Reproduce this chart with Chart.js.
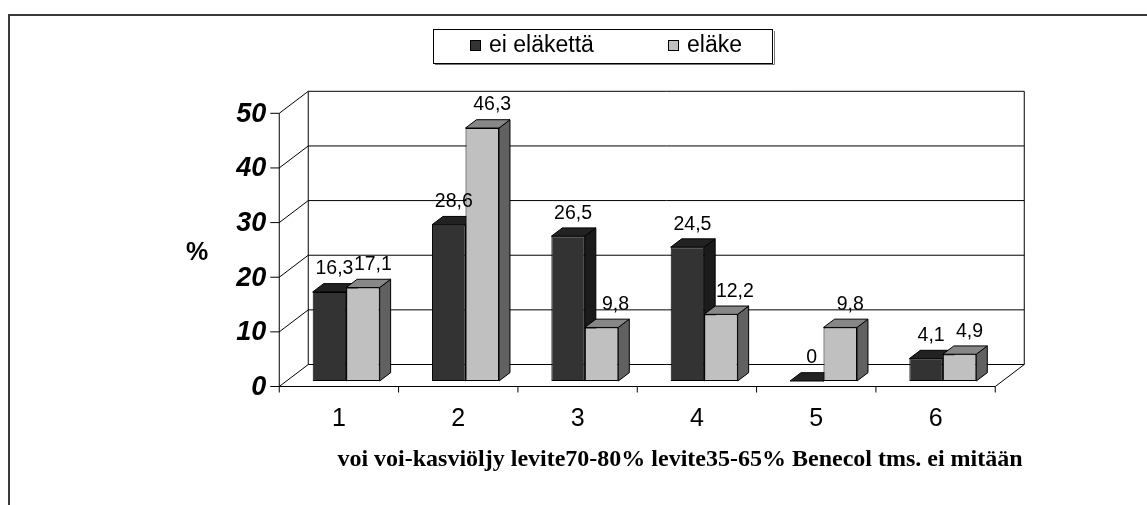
<!DOCTYPE html>
<html>
<head>
<meta charset="utf-8">
<script src="https://cdn.jsdelivr.net/npm/chart.js@4.4.1/dist/chart.umd.min.js"></script>
<style>
  html, body { margin: 0; padding: 0; background: #ffffff; }
  #wrap { position: relative; width: 1147px; height: 505px; }
</style>
</head>
<body>
<div id="wrap"><canvas id="chart"></canvas></div>
<script>
// ---- data ----
const categories = ['1', '2', '3', '4', '5', '6'];
const productNames = ['voi', 'voi-kasviöljy', 'levite70-80%', 'levite35-65%', 'Benecol tms.', 'ei mitään'];
const seriesNames = ['ei eläkettä', 'eläke'];
const eiElakettaValues = [16.3, 28.6, 26.5, 24.5, 0, 4.1];
const elakeValues = [17.1, 46.3, 9.8, 12.2, 9.8, 4.9];
const yTickValues = [0, 10, 20, 30, 40, 50];
const yAxisTitle = '%';

// ---- styling ----
const faceColors = [
  { front: '#333333', top: '#222222', side: '#1b1b1b' },
  { front: '#c0c0c0', top: '#878787', side: '#616161' }
];
const WALL = { dx: 29, dy: -22 };      // full depth of the 3D box
const PLANE_T = 0.25;                   // bars stand this far behind the front edge
const BAR = { dx: 11, dy: -8.3 };       // depth of each column
const FONT_SANS = '"Liberation Sans", Arial, sans-serif';
const FONT_SERIF = '"Liberation Serif", "Times New Roman", serif';

const fmt = v => String(v).replace('.', ',');

// geometry helpers relative to the bar plane
function frontPt(x, y) { return [x - WALL.dx * PLANE_T, y - WALL.dy * PLANE_T]; }
function backPt(x, y) { return [x + WALL.dx * (1 - PLANE_T), y + WALL.dy * (1 - PLANE_T)]; }

function line(ctx, a, b) {
  ctx.beginPath();
  ctx.moveTo(a[0], a[1]);
  ctx.lineTo(b[0], b[1]);
  ctx.stroke();
}

function poly(ctx, pts, fill) {
  ctx.beginPath();
  ctx.moveTo(pts[0][0], pts[0][1]);
  for (let i = 1; i < pts.length; i++) ctx.lineTo(pts[i][0], pts[i][1]);
  ctx.closePath();
  ctx.fillStyle = fill;
  ctx.fill();
  ctx.stroke();
}

function drawBarDepth(ctx, chart, dsIndex) {
  const meta = chart.getDatasetMeta(dsIndex);
  const col = faceColors[dsIndex];
  ctx.save();
  ctx.strokeStyle = '#000';
  ctx.lineWidth = 1;
  meta.data.forEach(bar => {
    const p = bar.getProps(['x', 'y', 'base', 'width'], true);
    const l = p.x - p.width / 2, r = p.x + p.width / 2;
    const top = Math.min(p.y, p.base), bot = p.base;
    // side face
    poly(ctx, [[r, top], [r + BAR.dx, top + BAR.dy], [r + BAR.dx, bot + BAR.dy], [r, bot]], col.side);
    // top face
    poly(ctx, [[l, top], [r, top], [r + BAR.dx, top + BAR.dy], [l + BAR.dx, top + BAR.dy]], col.top);
  });
  ctx.restore();
}

const box3d = {
  id: 'box3d',
  beforeDraw(chart) {
    const ctx = chart.ctx;
    ctx.save();
    ctx.fillStyle = '#ffffff';
    ctx.fillRect(0, 0, chart.width, chart.height);
    // outer frame
    ctx.strokeStyle = '#3a3a3a';
    ctx.lineWidth = 2;
    ctx.beginPath();
    ctx.moveTo(9, chart.height);
    ctx.lineTo(9, 15);
    ctx.lineTo(chart.width, 15);
    ctx.stroke();
    ctx.restore();
  },
  beforeDatasetsDraw(chart) {
    const ctx = chart.ctx;
    const ys = chart.scales.y;
    const L = chart.chartArea.left, R = chart.chartArea.right;
    const yMin = ys.getPixelForValue(ys.min), yMax = ys.getPixelForValue(ys.max);
    ctx.save();
    ctx.strokeStyle = '#000';
    ctx.lineWidth = 1;

    // back wall
    const bTL = backPt(L, yMax), bBR = backPt(R, yMin);
    ctx.fillStyle = '#ffffff';
    ctx.fillRect(bTL[0], bTL[1], bBR[0] - bTL[0], bBR[1] - bTL[1]);

    // grid lines on back wall and left wall
    yTickValues.forEach(v => {
      const py = ys.getPixelForValue(v);
      line(ctx, backPt(L, py), backPt(R, py));
      line(ctx, frontPt(L, py), backPt(L, py));
    });
    // wall edges
    line(ctx, backPt(L, yMax), backPt(L, yMin));
    line(ctx, backPt(R, yMax), backPt(R, yMin));
    // floor
    line(ctx, frontPt(L, yMin), frontPt(R, yMin));
    line(ctx, frontPt(R, yMin), backPt(R, yMin));
    // vertical value axis
    line(ctx, frontPt(L, yMax), frontPt(L, yMin));

    // value ticks and labels
    ctx.fillStyle = '#000';
    ctx.font = 'italic bold 27px ' + FONT_SANS;
    ctx.textAlign = 'right';
    ctx.textBaseline = 'middle';
    yTickValues.forEach(v => {
      const f = frontPt(L, ys.getPixelForValue(v));
      line(ctx, [f[0] - 9, f[1]], f);
      ctx.fillText(String(v), f[0] - 13, f[1] + 1);
    });

    // category ticks and labels
    const catW = (R - L) / categories.length;
    const f0 = frontPt(L, yMin);
    for (let k = 0; k <= categories.length; k++) {
      line(ctx, [f0[0] + k * catW, f0[1]], [f0[0] + k * catW, f0[1] + 6]);
    }
    ctx.font = '25px ' + FONT_SANS;
    ctx.textAlign = 'center';
    ctx.textBaseline = 'alphabetic';
    categories.forEach((c, i) => {
      ctx.fillText(c, f0[0] + (i + 0.5) * catW, 426);
    });

    // product name row
    ctx.font = 'bold 24px ' + FONT_SERIF;
    ctx.fillText(productNames.join(' '), 680, 466);

    // value axis title
    ctx.font = 'bold 25px ' + FONT_SANS;
    ctx.textBaseline = 'middle';
    ctx.fillText(yAxisTitle, 197, 253);

    // depth faces of the front series go behind the library-drawn fronts
    drawBarDepth(ctx, chart, 0);
    ctx.restore();
  },
  afterDatasetsDraw(chart) {
    const ctx = chart.ctx;
    drawBarDepth(ctx, chart, 1);
    // value labels, nudged right of the column so neighbours stay readable
    ctx.save();
    ctx.fillStyle = '#000';
    ctx.font = '19.5px ' + FONT_SANS;
    ctx.textAlign = 'center';
    ctx.textBaseline = 'middle';
    chart.data.datasets.forEach((ds, di) => {
      chart.getDatasetMeta(di).data.forEach((bar, i) => {
        const p = bar.getProps(['x', 'y'], true);
        const nudge = di === 0 ? 5 : (eiElakettaValues[i] > elakeValues[i] ? 14 : 10);
        ctx.fillText(fmt(ds.data[i]), p.x + nudge, p.y - 23);
      });
    });
    ctx.restore();
  },
  afterDraw(chart) {
    // legend
    const ctx = chart.ctx;
    ctx.save();
    ctx.fillStyle = '#ffffff';
    ctx.lineWidth = 1;
    ctx.fillRect(433, 29, 340, 34);
    ctx.strokeStyle = '#777';
    line(ctx, [774.5, 31], [774.5, 64.5]);
    line(ctx, [435, 64.5], [774.5, 64.5]);
    ctx.strokeStyle = '#000';
    ctx.strokeRect(433.5, 29.5, 339, 34);
    const items = [{ mx: 470, tx: 489 }, { mx: 668, tx: 687 }];
    ctx.font = '23px ' + FONT_SANS;
    ctx.textAlign = 'left';
    ctx.textBaseline = 'middle';
    chart.data.datasets.forEach((ds, i) => {
      ctx.fillStyle = ds.backgroundColor;
      ctx.fillRect(items[i].mx, 40, 11, 11);
      ctx.strokeStyle = '#000';
      ctx.strokeRect(items[i].mx + 0.5, 40.5, 10, 10);
      ctx.fillStyle = '#000';
      ctx.fillText(ds.label, items[i].tx, 46);
    });
    ctx.restore();
  }
};

new Chart(document.getElementById('chart'), {
  type: 'bar',
  data: {
    labels: categories,
    datasets: [
      { label: seriesNames[0], data: eiElakettaValues, backgroundColor: faceColors[0].front,
        borderColor: '#000', borderWidth: 1, borderSkipped: false,
        categoryPercentage: 0.561, barPercentage: 1 },
      { label: seriesNames[1], data: elakeValues, backgroundColor: faceColors[1].front,
        borderColor: '#000', borderWidth: 1, borderSkipped: false,
        categoryPercentage: 0.561, barPercentage: 1 }
    ]
  },
  options: {
    responsive: true,
    maintainAspectRatio: false,
    animation: false,
    devicePixelRatio: 1,
    layout: { padding: { left: 286.5, right: 144.5, top: 107.8, bottom: 124 } },
    scales: {
      x: { display: false, grid: { display: false } },
      y: { display: false, min: 0, max: 50 }
    },
    plugins: { legend: { display: false }, tooltip: { enabled: false } }
  },
  plugins: [box3d]
});
</script>
</body>
</html>
